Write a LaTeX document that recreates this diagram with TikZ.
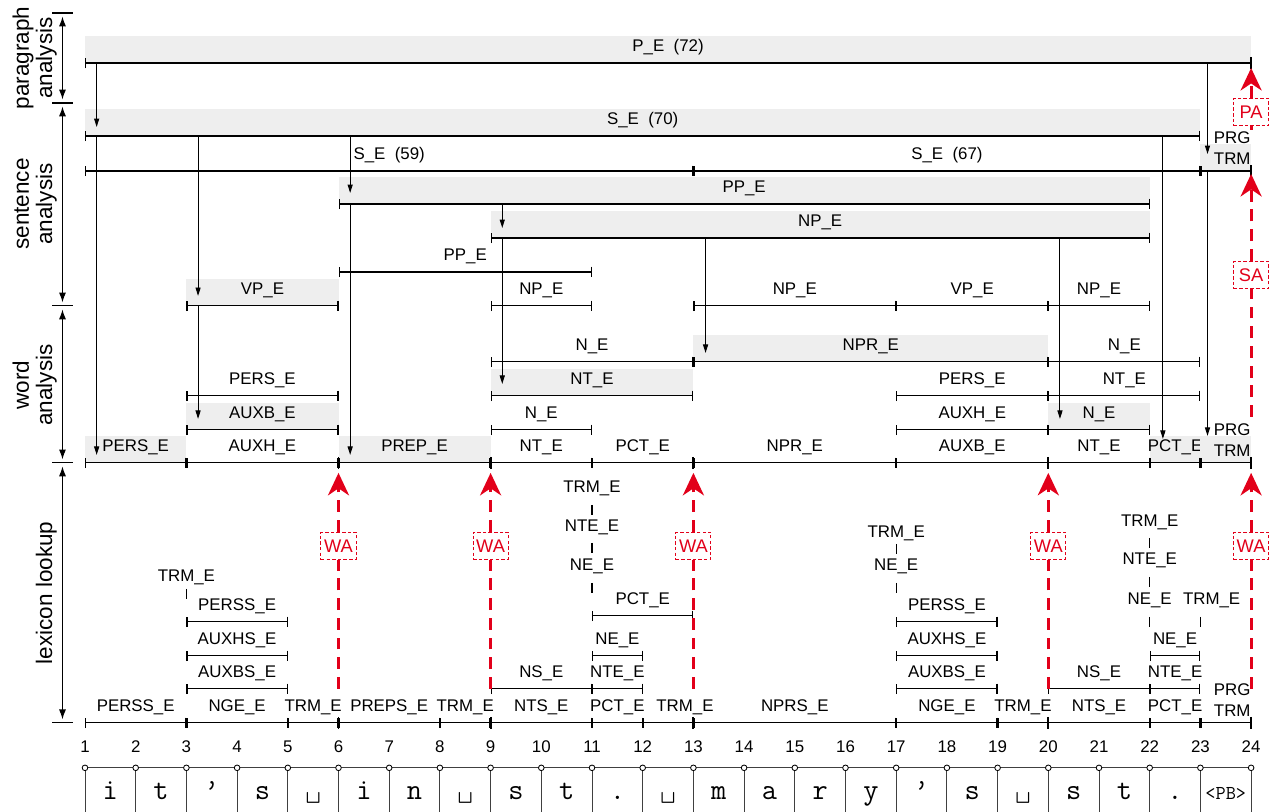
\documentclass[tikz,border=0pt]{standalone}
\usepackage{fontspec}
\setmainfont{Liberation Sans}
\usetikzlibrary{arrows.meta}

\definecolor{alarm}{RGB}{226,0,26}
\definecolor{lightbox}{RGB}{238,238,238}

\newcounter{edgeno}
% chart edge on a line: [label opts]{from}{to}{line}{label}
\newcommand{\chartedge}[5][]{%
  \stepcounter{edgeno}%
  \draw[edgeline] (#2,#4) -- (#3,#4);
  \node[elabel,#1] (e\theedgeno) at ({(#2+#3)/2},{#4-15.5}) {#5};}
% same, with the grey box of an active edge
\newcommand{\activeedge}[5][]{%
  \fill[lightbox] (#2,{#4-27}) rectangle (#3,#4);
  \chartedge[#1]{#2}{#3}{#4}{#5}}
% edge of length zero: [label opts]{pos}{tick}{label y}{label}
\newcommand{\zeroedge}[5][]{%
  \stepcounter{edgeno}%
  \draw[line width=0.8pt] (#2,{#3-5}) -- (#2,{#3+5});
  \node[elabel,#1] (e\theedgeno) at (#2,#4) {#5};}

\begin{document}
\begin{tikzpicture}[x=1.2675cm, y=-0.025cm,
  edgeline/.style={{Bar[width=7.5pt]}-{Bar[width=7.5pt]}, line width=0.8pt},
  elabel/.style={inner sep=0pt, align=center, font=\fontsize{12}{15}\selectfont},
  prgtrm/.style={xshift=4.6pt, yshift=5.3pt},
  down/.style={-{Triangle[length=6pt,width=3.6pt]}, line width=0.7pt},
  axisarrow/.style={{Latex[length=7pt,width=5pt]}-{Latex[length=7pt,width=5pt]},
    line width=0.8pt, shorten <=2.5pt, shorten >=2.5pt},
  axislabel/.style={rotate=90, anchor=south, align=center, inner sep=0pt,
    font=\fontsize{16}{16.5}\selectfont},
  wabox/.style={draw=alarm, dash pattern=on 2.5pt off 1.5pt, line width=0.7pt,
    fill=white, text=alarm, font=\fontsize{13}{14}\selectfont,
    minimum width=25pt, minimum height=19.5pt, inner sep=0pt},
  redflow/.style={alarm, line width=2pt, dash pattern=on 8.5pt off 5.5pt},
  redtip/.style={redflow, -{Stealth[length=16pt,width=15pt,inset=5pt]}},
  cellline/.style={line width=0.7pt, black!75},
  cellchar/.style={anchor=base, inner sep=0pt, font=\ttfamily\fontsize{21}{21}\selectfont}]
  \useasboundingbox (-0.6765,0) rectangle (24.4714,812);

  % paragraph analysis
  \activeedge{1}{24}{63}{P\_E\ \ (72)}

  % sentence analysis
  \activeedge{1}{23}{136}{S\_E\ \ (70)}
  \chartedge{1}{13}{171}{S\_E\ \ (59)}
  \chartedge{13}{23}{171}{S\_E\ \ (67)}
  \activeedge[prgtrm]{23}{24}{171}{PRG\\TRM}
  \activeedge{6}{22}{204}{PP\_E}
  \activeedge{9}{22}{238}{NP\_E}
  \chartedge{6}{11}{272}{PP\_E}
  \activeedge{3}{6}{306}{VP\_E}
  \chartedge{9}{11}{306}{NP\_E}
  \chartedge{13}{17}{306}{NP\_E}
  \chartedge{17}{20}{306}{VP\_E}
  \chartedge{20}{22}{306}{NP\_E}

  % word analysis
  \chartedge{9}{13}{362}{N\_E}
  \activeedge{13}{20}{362}{NPR\_E}
  \chartedge{20}{23}{362}{N\_E}
  \chartedge{3}{6}{396}{PERS\_E}
  \activeedge{9}{13}{396}{NT\_E}
  \chartedge{17}{20}{396}{PERS\_E}
  \chartedge{20}{23}{396}{NT\_E}
  \activeedge{3}{6}{430}{AUXB\_E}
  \chartedge{9}{11}{430}{N\_E}
  \chartedge{17}{20}{430}{AUXH\_E}
  \activeedge{20}{22}{430}{N\_E}
  \activeedge{1}{3}{463}{PERS\_E}
  \chartedge{3}{6}{463}{AUXH\_E}
  \activeedge{6}{9}{463}{PREP\_E}
  \chartedge{9}{11}{463}{NT\_E}
  \chartedge{11}{13}{463}{PCT\_E}
  \chartedge{13}{17}{463}{NPR\_E}
  \chartedge{17}{20}{463}{AUXB\_E}
  \chartedge{20}{22}{463}{NT\_E}
  \activeedge{22}{23}{463}{PCT\_E}
  \activeedge[prgtrm]{23}{24}{463}{PRG\\TRM}

  % lexicon lookup
  \chartedge{1}{3}{723}{PERSS\_E}
  \chartedge{3}{5}{723}{NGE\_E}
  \chartedge{5}{6}{723}{TRM\_E}
  \chartedge{6}{8}{723}{PREPS\_E}
  \chartedge{8}{9}{723}{TRM\_E}
  \chartedge{9}{11}{723}{NTS\_E}
  \chartedge{11}{12}{723}{PCT\_E}
  \chartedge[xshift=12pt]{12}{13}{723}{TRM\_E}
  \chartedge{13}{17}{723}{NPRS\_E}
  \chartedge{17}{19}{723}{NGE\_E}
  \chartedge{19}{20}{723}{TRM\_E}
  \chartedge{20}{22}{723}{NTS\_E}
  \chartedge{22}{23}{723}{PCT\_E}
  \chartedge[prgtrm]{23}{24}{723}{PRG\\TRM}
  \chartedge{3}{5}{689}{AUXBS\_E}
  \chartedge{9}{11}{689}{NS\_E}
  \chartedge{11}{12}{689}{NTE\_E}
  \chartedge{17}{19}{689}{AUXBS\_E}
  \chartedge{20}{22}{689}{NS\_E}
  \chartedge{22}{23}{689}{NTE\_E}
  \chartedge{3}{5}{656}{AUXHS\_E}
  \chartedge{11}{12}{656}{NE\_E}
  \chartedge{17}{19}{656}{AUXHS\_E}
  \chartedge{22}{23}{656}{NE\_E}
  \chartedge{3}{5}{622}{PERSS\_E}
  \chartedge{17}{19}{622}{PERSS\_E}
  \chartedge{11}{13}{616}{PCT\_E}
  \zeroedge{3}{594}{578}{TRM\_E}
  \zeroedge{11}{510}{488}{TRM\_E}
  \zeroedge{11}{548}{527}{NTE\_E}
  \zeroedge{11}{588}{567}{NE\_E}
  \zeroedge{17}{549}{533}{TRM\_E}
  \zeroedge{17}{588}{567}{NE\_E}
  \zeroedge{22}{543}{522}{TRM\_E}
  \zeroedge{22}{582}{561}{NTE\_E}
  \zeroedge{22}{622}{601}{NE\_E}
  \zeroedge[xshift=8pt]{23}{622}{601}{TRM\_E}

  % heavier ticks where the analyses start
  \foreach \p/\y in {6/463,9/463,13/463,20/463,24/463,6/723,9/723,13/723,
      20/723,24/723,24/171,24/63}
    \draw[line width=1.4pt] (\p,\y-6) -- (\p,\y+6);

  % expansion arrows
  \foreach \x/\ya/\yb in {1.23/63/127, 1.23/136/455, 3.23/136/296, 3.23/306/419,
      6.23/136/193, 6.23/204/455, 9.23/204/228, 9.23/238/384, 13.24/238/353,
      20.23/238/419, 22.26/136/439, 23.14/63/154, 23.14/171/436}
    \draw[down] (\x,\ya) -- (\x,\yb);

  % analysis steps
  \foreach \p in {6,9,13,20,24} {
    \node[wabox] (wa\p) at (\p,546) {WA};
    \draw[redflow] (\p,689) -- (wa\p);
    \draw[redtip] (wa\p) -- (\p,473);
  }
  \node[wabox] (sa) at (24,275) {SA};
  \draw[redflow] (24,417) -- (sa);
  \draw[redtip] (sa) -- (24,174);
  \node[wabox] (pa) at (24,112) {PA};
  \draw[redflow] (24,130) -- (pa);
  \draw[redtip] (pa) -- (24,68);

  % levels on the left
  \foreach \y in {13,103,306,463,723}
    \draw[line width=0.8pt] (0.35,\y) -- (0.763,\y);
  \foreach \ya/\yb in {13/103,103/306,306/463,463/723}
    \draw[axisarrow] (0.556,\ya) -- (0.556,\yb);
  \node[axislabel] (lpara) at (0.448,58) {paragraph\\analysis};
  \node[axislabel] (lsent) at (0.448,204) {sentence\\analysis};
  \node[axislabel] (lword) at (0.448,385) {word\\analysis};
  \node[axislabel] (llex) at (0.448,593) {lexicon lookup};

  % input characters
  \draw[cellline] (1,768) -- (24,768);
  \foreach \i in {1,...,24} {
    \draw[cellline] (\i,768) -- (\i,812);
    \node[elabel] (n\i) at (\i,747) {\i};
  }
  \foreach \i in {1,...,24}
    \filldraw[fill=white, line width=0.6pt] (\i,768) circle[radius=2pt];
  \foreach \c [count=\i] in {i,t,’,s,\textvisiblespace,i,n,\textvisiblespace,s,t,.,%
      \textvisiblespace,m,a,r,y,’,s,\textvisiblespace,s,t,.}
    \node[cellchar] (c\i) at ({\i+0.5},800) {\c};
  \node[cellchar, font=\ttfamily\fontsize{14}{14}\selectfont] (c23) at (23.5,800) {<PB>};
\end{tikzpicture}
\end{document}
